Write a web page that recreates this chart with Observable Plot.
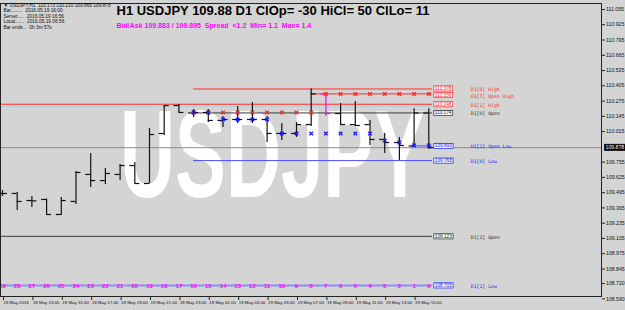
<!DOCTYPE html>
<html><head><meta charset="utf-8">
<script src="https://cdn.jsdelivr.net/npm/d3@7"></script>
<script src="https://cdn.jsdelivr.net/npm/@observablehq/plot@0.6"></script>
<style>html,body{margin:0;padding:0;background:#d4d4d4;overflow:hidden}svg{display:block}</style>
</head><body><div id="chart"></div>
<script>
// ---- data (oldest bar first; countdown label = 29 - index) ----
const barOpen  = [109.488,109.488,109.428,109.437,109.309,109.420,109.650,109.598,109.650,109.726,109.573,109.999,110.237,110.174,110.178,110.110,110.118,110.118,110.118,109.999,109.999,110.075,110.336,110.169,110.075,110.075,109.948,109.922,109.893,110.173];
const barHigh  = [109.513,109.496,109.462,109.440,109.454,109.675,109.828,109.701,109.735,109.752,110.041,110.237,110.248,110.203,110.203,110.144,110.229,110.263,110.144,110.084,110.092,110.378,110.340,110.254,110.271,110.110,109.999,109.965,110.210,110.210];
const barLow   = [109.462,109.343,109.368,109.300,109.300,109.394,109.539,109.564,109.598,109.573,109.570,109.982,110.178,110.135,110.092,110.050,110.084,110.084,109.922,109.939,109.965,110.058,110.144,110.067,110.058,109.897,109.828,109.768,109.890,109.865];
const barClose = [109.488,109.420,109.425,109.309,109.428,109.667,109.598,109.658,109.726,109.573,109.990,110.237,110.178,110.178,110.110,110.118,110.118,110.118,109.999,109.999,110.075,110.336,110.169,110.075,110.067,109.948,109.922,109.897,110.173,109.878];
const specialBar = 22; // bar drawn in magenta
const openHighMarks = [null,null,null,null,null,null,null,null,null,null,null,null,null,110.178,110.178,110.178,110.178,110.178,110.178,110.178,110.178,110.178,110.336,110.336,110.336,110.336,110.336,110.336,110.336,110.336];
const openLowMarks  = [null,null,null,null,null,null,null,null,null,null,null,null,null,110.178,110.178,110.118,110.118,110.118,110.118,109.999,109.999,109.999,109.999,109.999,109.999,109.999,109.939,109.922,109.897,109.897];
const timeTickIdx = [0,2,4,6,8,10,12,14,16,18,20,22,24,26,28];
const timeLabels = ["18 May 2016","18 May 13:00","18 May 15:00","18 May 17:00","18 May 19:00","18 May 21:00","18 May 23:00","19 May 01:00","19 May 03:00","19 May 05:00","19 May 07:00","19 May 09:00","19 May 11:00","19 May 13:00","19 May 15:00"];
const priceTicks = [111.055,110.925,110.795,110.665,110.535,110.405,110.275,110.145,110.015,109.755,109.625,109.495,109.365,109.235,109.105,108.975,108.845,108.720,108.590];
const currentPrice = 109.878;
const prevHighShadow = 110.232;
const levelNames  = ["D1[0] High","H1[7] Open High","D1[1] High","D1[0] Open","H1[1] Open Low","D1[0] Low","D1[1] Open","D1[1] Low"];
const levelPrices = [110.378,110.336,110.248,110.174,109.893,109.768,109.123,108.705];
const levelStart  = [13,21,-1,13,28,13,-1,-1];
const levelKind   = ["hi","hi","hi","open","lo","lo","open","low2"];
const titleText = "H1 USDJPY 109.88 D1 ClOp= -30 HiCl= 50 ClLo= 11";
const subText = "Bid/Ask 109.883 / 109.895  Spread  <1.2  Min= 1.1  Max= 1.4";
const infoLines = ["\u25BC USDJPY,H1  110.173 110.210 109.865 109.878","Bar.........  2016.05.19 16:00","Server.....  2016.05.19 16:56","Local.......  2016.05.19 06:56","Bar ends...  0h 3m 57s"];
const symbolText = "USDJPY";

// ---- derived tables ----
const bars = barOpen.map((o,i)=>({i, o, h:barHigh[i], l:barLow[i], c:barClose[i], n:barOpen.length-1-i}));
const lastIdx = bars.length-1;
const hiMarks = openHighMarks.map((v,i)=>({i,v})).filter(d=>d.v!=null);
const loMarks = openLowMarks.map((v,i)=>({i,v})).filter(d=>d.v!=null);
const levels = levelNames.map((name,k)=>({name, price:levelPrices[k], start:levelStart[k], kind:levelKind[k]}));
// simple label collision avoidance: push crowded neighbours apart
levels.forEach((d,k)=>{ d.nudge = 0; });
levels.forEach((d,k)=>{ if(k>0 && levels[k-1].price - d.price < 0.06){ d.nudge += 1.2; levels[k-1].nudge -= 0.6; } });
const kindColor = {hi:"#ff2b2b", open:"#3c3c3c", lo:"#4a4aff", low2:"#8c8cf4"};
const kindText  = {hi:"#ff2b2b", open:"#303030", lo:"#2020ff", low2:"#2020ff"};
const barColor = d => d.i===specialBar ? "#ff00ff" : "#111";
const F = "Liberation Sans, Arial, sans-serif";

const plot = Plot.plot({
  width:625, height:310, marginLeft:0, marginRight:24, marginTop:3, marginBottom:14,
  style:{background:"#d4d4d4", fontFamily:F, overflow:"visible"},
  x:{type:"linear", domain:[0,40], range:[2, 2+40*14.7], axis:null},
  y:{type:"linear", domain:[111.055,108.59], range:[9,298.4], axis:null},
  marks:[
    Plot.text([symbolText], {frameAnchor:"top-left", lineAnchor:"bottom", textAnchor:"start", fontSize:125, fontWeight:"bold", fill:"#ffffff", fontFamily:F, className:"wm"}),
    Plot.ruleY([currentPrice], {stroke:"#8d8d8d", strokeWidth:1}),
    Plot.ruleY([prevHighShadow], {x1:()=>-1, x2:()=>lastIdx+0.25, stroke:"#a9d3dc", strokeWidth:1}),
    Plot.ruleY(levels, {y:"price", x1:"start", x2:()=>lastIdx+0.25, stroke:d=>kindColor[d.kind], strokeWidth:d=>d.kind==="low2"?2:1}),
    Plot.ruleX(bars, {x:"i", y1:"l", y2:"h", stroke:barColor, strokeWidth:1.2}),
    Plot.ruleY(bars, {y:"o", x1:d=>d.i-0.34, x2:"i", stroke:barColor, strokeWidth:1.2}),
    Plot.ruleY(bars, {y:"c", x1:"i", x2:d=>d.i+0.34, stroke:barColor, strokeWidth:1.2}),
    Plot.dot(hiMarks, {x:"i", y:"v", symbol:"times", r:1.8, stroke:"#ff2020", strokeWidth:1.3}),
    Plot.dot(loMarks, {x:"i", y:"v", symbol:"times", r:1.8, stroke:"#1818ff", strokeWidth:1.3}),
    Plot.text(levels, {x:()=>lastIdx, y:d=>d.price, text:d=>d.price.toFixed(3), dx:6, textAnchor:"start", fontSize:4.7, fill:d=>kindText[d.kind], className:"lvlbox"}),
    Plot.text(levels, {x:()=>lastIdx, y:"price", text:"name", dx:42, dy:1, textAnchor:"start", fontSize:4.8, fill:d=>kindText[d.kind], fontFamily:"DejaVu Sans Mono, monospace", className:"lvlname"}),
    Plot.text(bars, {x:"i", text:d=>String(d.n), frameAnchor:"bottom", dy:-8.5, fontSize:6, fontWeight:"bold", fill:"#ff00ff"}),
    Plot.frame({stroke:"#222", strokeWidth:1}),
    Plot.axisY(priceTicks, {anchor:"right", tickSize:3, tickPadding:1.5, fontSize:5.2, tickFormat:d=>d.toFixed(3), fill:"#111", stroke:"#222"}),
    Plot.axisX(timeTickIdx, {anchor:"bottom", tickSize:4, tickPadding:0.5, fontSize:4.4, textAnchor:"start", dx:1, tickFormat:d=>timeLabels[timeTickIdx.indexOf(d)], fill:"#111", stroke:"#222"}),
    Plot.text([currentPrice.toFixed(3)], {frameAnchor:"right", y:()=>currentPrice, dx:4, textAnchor:"start", fontSize:5.2, fill:"#fff", className:"curbox"}),
    Plot.text([titleText], {frameAnchor:"top-left", dx:116, dy:11, lineAnchor:"bottom", textAnchor:"start", fontSize:13, fontWeight:"bold", fill:"#000"}),
    Plot.text([subText], {frameAnchor:"top-left", dx:116, dy:24, lineAnchor:"bottom", textAnchor:"start", fontSize:7, fontWeight:"bold", fill:"#ff00ff", className:"sub"}),
    Plot.text(infoLines, {frameAnchor:"top-left", dx:3, lineAnchor:"top", textAnchor:"start", fontSize:4.8, fill:"#111", className:"info"})
  ]
});
document.getElementById("chart").append(plot);

// watermark: condensed, placed like the reference (real geometric scale so its box is true)
d3.select(plot).selectAll("g.wm").attr("transform", null);
d3.select(plot).selectAll("g.wm text").attr("x",0).attr("y",0).attr("transform","translate(120,197) scale(0.61,1)");
d3.select(plot).selectAll("g.sub text").style("white-space","pre");
d3.select(plot).selectAll("g.info text").each(function(d,k){
  const t=d3.select(this); const tr=t.attr("transform")||"";
  t.attr("transform", tr + ` translate(0,${k*5.4})`).style("white-space","pre");
});
// nudge crowded level labels
d3.select(plot).selectAll("g.lvlbox text, g.lvlname text").each(function(d,k){
  const lv = levels[k % levels.length]; if(!lv.nudge) return;
  const tr=this.getAttribute("transform")||""; this.setAttribute("transform", tr+` translate(0,${lv.nudge})`);
});
function boxify(sel, fillFn, strokeFn){
  sel.each(function(){
    const b=this.getBBox();
    const tr=this.getAttribute("transform");
    const r=document.createElementNS("http://www.w3.org/2000/svg","rect");
    r.setAttribute("x",b.x-1); r.setAttribute("y",b.y-0.1);
    r.setAttribute("width",b.width+2); r.setAttribute("height",b.height+0.2);
    if(tr) r.setAttribute("transform",tr);
    r.setAttribute("fill",fillFn(this)); r.setAttribute("stroke",strokeFn(this)); r.setAttribute("stroke-width",0.7);
    this.parentNode.insertBefore(r,this);
  });
}
boxify(d3.select(plot).selectAll("g.lvlbox text"), ()=>"#f4f4f4", el=>el.getAttribute("fill"));
boxify(d3.select(plot).selectAll("g.curbox text"), ()=>"#000", ()=>"#000");
</script></body></html>
